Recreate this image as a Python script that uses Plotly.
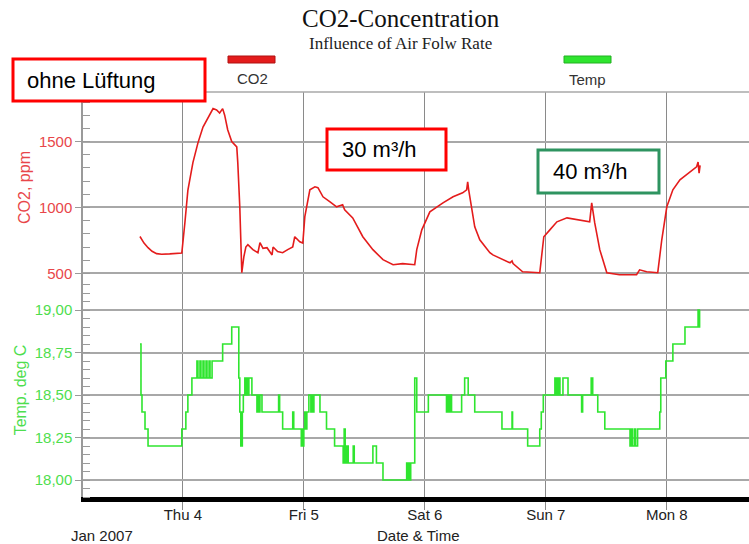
import pandas as pd
import plotly.graph_objects as go
from plotly.subplots import make_subplots

# ---------------- data ----------------
base = pd.Timestamp("2007-01-04 00:00")

# hours relative to Thu 4 Jan 2007 00:00
co2_hours = [-8.5, -7.7, -6.9, -6.1, -5.2, -4.2, -2.6, -1.0, -0.2, 0.4, 1.0, 2.0, 3.0, 4.0,
             5.4, 6.0, 6.7, 7.3, 7.9, 8.3, 8.9, 9.7, 10.7, 10.9, 11.3, 11.5, 11.7, 12.1,
             12.5, 12.9, 13.9, 14.9, 15.3, 15.9, 16.7, 17.7, 17.9, 18.8, 19.8, 20.8, 21.8,
             22.2, 23.2, 23.8, 24.2, 25.2, 26.2, 26.8, 27.8, 29.2, 30.5, 31.7, 32.1, 33.7,
             35.7, 37.7, 39.7, 41.7, 43.6, 46.0, 46.4, 47.4, 49.0, 51.6, 53.6, 55.5, 56.3,
             56.5, 56.7, 57.9, 58.9, 60.9, 61.5, 64.9, 65.3, 65.5, 67.4, 70.8, 71.6, 72.8,
             74.2, 76.2, 78.1, 80.7, 81.1, 81.7, 82.7, 84.1, 86.6, 90.0, 90.6, 92.0, 94.2,
             95.0, 96.0, 97.2, 98.6, 100.6, 101.9, 102.2, 102.4, 102.6]
co2_ppm = [780, 730, 695, 668, 650, 645, 648, 655, 655, 880, 1130, 1340, 1490, 1610,
           1713, 1750, 1740, 1717, 1750, 1700, 1590, 1500, 1460, 1340, 1005, 625, 505, 625,
           700, 717, 680, 657, 733, 690, 695, 640, 700, 665, 657, 680, 700,
           778, 740, 730, 930, 1134, 1157, 1150, 1081, 1043, 1005, 1020, 983, 921,
           778, 680, 604, 566, 574, 566, 680, 830, 967, 1035, 1081, 1111, 1134,
           1195, 1134, 853, 755, 657, 640, 580, 595, 575, 512, 505, 778, 830,
           891, 921, 906, 891, 1035, 883, 680, 505, 490, 490, 527, 512, 505,
           755, 1005, 1134, 1210, 1270, 1308, 1345, 1260, 1320]

temp_hours = [-8.5, -8.3, -8.1, -7.5, -6.9, -0.2, 0.6, 1.0, 1.8, 2.8, 3.0, 3.4, 3.6, 4.0,
              4.2, 4.6, 4.8, 5.2, 5.4, 5.8, 7.9, 9.7, 11.1, 11.3, 11.5, 11.8, 12.0, 12.3,
              12.5, 12.7, 12.9, 13.1, 13.7, 14.7, 14.9, 15.1, 15.3, 15.7, 19.0, 19.2, 19.8,
              21.8, 22.0, 23.5, 23.7, 23.9, 24.0, 24.2, 24.4, 24.6, 25.0, 25.4, 25.6, 25.8,
              26.0, 27.2, 28.5, 30.1, 31.8, 32.0, 32.2, 32.5, 32.8, 33.8, 34.0, 37.7, 38.4,
              39.7, 44.4, 44.6, 44.8, 45.0, 45.2, 46.0, 46.4, 48.7, 52.3, 52.6, 52.8, 53.0,
              53.3, 55.3, 55.9, 56.6, 57.9, 63.3, 65.3, 65.4, 68.4, 70.8, 71.1, 71.5, 73.8,
              74.0, 74.2, 74.4, 74.6, 74.8, 75.4, 76.4, 79.1, 79.3, 81.0, 81.3, 82.3, 83.7,
              88.7, 89.0, 89.2, 89.6, 89.8, 90.2, 94.6, 94.8, 95.8, 97.2, 99.6, 102.2, 102.3,
              102.5, 102.6]
temp_c = [18.8, 18.5, 18.4, 18.3, 18.2, 18.3, 18.4, 18.5, 18.6, 18.7, 18.6, 18.7, 18.6, 18.7,
          18.6, 18.7, 18.6, 18.7, 18.6, 18.7, 18.8, 18.9, 18.6, 18.4, 18.2, 18.4, 18.5, 18.6,
          18.5, 18.6, 18.5, 18.6, 18.5, 18.4, 18.5, 18.4, 18.5, 18.4, 18.5, 18.4, 18.3,
          18.4, 18.3, 18.2, 18.3, 18.2, 18.3, 18.4, 18.3, 18.4, 18.5, 18.4, 18.5, 18.4,
          18.5, 18.4, 18.3, 18.2, 18.1, 18.3, 18.1, 18.2, 18.1, 18.2, 18.1, 18.2, 18.1,
          18.0, 18.1, 18.0, 18.1, 18.0, 18.1, 18.6, 18.4, 18.5, 18.4, 18.5, 18.4, 18.5,
          18.4, 18.5, 18.6, 18.5, 18.4, 18.3, 18.4, 18.3, 18.2, 18.3, 18.4, 18.5, 18.6,
          18.5, 18.6, 18.5, 18.6, 18.5, 18.6, 18.5, 18.4, 18.5, 18.6, 18.5, 18.4, 18.3,
          18.2, 18.3, 18.2, 18.3, 18.2, 18.3, 18.4, 18.6, 18.7, 18.8, 18.9, 19.0, 18.9,
          19.0, 19.0]

x_range_hours = [-19.8, 112.3]
day_ticks = ["2007-01-04", "2007-01-05", "2007-01-06", "2007-01-07", "2007-01-08"]
day_labels = ["Thu 4", "Fri 5", "Sat 6", "Sun 7", "Mon 8"]
co2_tickvals = [500, 1000, 1500]
co2_ticktext = ["500", "1000", "1500"]
co2_range = [427, 1876]
temp_tickvals = [18.0, 18.25, 18.5, 18.75, 19.0]
temp_ticktext = ["18,00", "18,25", "18,50", "18,75", "19,00"]
temp_range = [17.90, 19.159]

# ---------------- figure ----------------
to_time = lambda hs: [base + pd.Timedelta(hours=h) for h in hs]
co2_t = to_time(co2_hours)
temp_t = to_time(temp_hours)
xr = to_time(x_range_hours)

RED = "#e41c1c"
RED_TXT = "#e8464a"
GREEN = "#2fe52f"
GREEN_TXT = "#4ede4e"
GRID = "#a8a8a8"
VGRID = "#8a8a8a"
AX = "#9a9a9a"
FONT = "Liberation Sans, Arial, sans-serif"
SERIF = "Liberation Serif, Times New Roman, serif"

fig = make_subplots(rows=2, cols=1, shared_xaxes=True, vertical_spacing=0,
                    row_heights=[191, 214])

fig.add_trace(go.Scatter(x=co2_t, y=co2_ppm, mode="lines", name="CO2",
                         line=dict(color=RED, width=1.6)), row=1, col=1)
fig.add_trace(go.Scatter(x=temp_t, y=temp_c, mode="lines", name="Temp",
                         line=dict(color=GREEN, width=1.6, shape="hv")), row=2, col=1)

W, H = 749, 544
L, R, T, B = 83, 0, 92, 47
PW, PH = W - L - R, H - T - B


def px(x):
    return (x - L) / PW


def py(y):
    return (H - B - y) / PH


split = py(283)

fig.update_layout(
    width=W, height=H,
    margin=dict(l=L, r=R, t=T, b=B),
    paper_bgcolor="white", plot_bgcolor="white",
    showlegend=False,
    font=dict(family=FONT, size=15, color="#333333"),
)

xcommon = dict(range=xr, tickmode="array", tickvals=day_ticks, ticktext=day_labels,
               showgrid=True, gridcolor=VGRID, gridwidth=1, zeroline=False)
fig.update_xaxes(**xcommon)
fig.update_layout(
    xaxis=dict(showticklabels=False, ticks="", showline=False),
    xaxis2=dict(showticklabels=True, ticks="outside", ticklen=8, tickcolor=VGRID,
                showline=True, linecolor="black", linewidth=5, ticklabelstandoff=-8,
                tickfont=dict(size=15, color="#222222")),
    yaxis=dict(domain=[split, 1], range=co2_range, tickmode="array",
               tickvals=co2_tickvals, ticktext=co2_ticktext,
               tickfont=dict(size=15, color=RED_TXT),
               showgrid=True, gridcolor=GRID, gridwidth=1.5, zeroline=False,
               showline=True, linecolor=AX, linewidth=1.5,
               ticks="outside", ticklen=6, tickcolor=AX,
               minor=dict(ticks="inside", tickmode="linear", tick0=0, dtick=100,
                          ticklen=7, tickcolor=AX, showgrid=False),
               title=dict(text="CO2, ppm", font=dict(size=16, color=RED_TXT), standoff=4)),
    yaxis2=dict(domain=[0, split], range=temp_range, tickmode="array",
                tickvals=temp_tickvals, ticktext=temp_ticktext,
                tickfont=dict(size=15, color=GREEN_TXT),
                showgrid=True, gridcolor=GRID, gridwidth=1.5, zeroline=False,
                showline=True, linecolor=AX, linewidth=1.5,
                ticks="outside", ticklen=6, tickcolor=AX,
                minor=dict(ticks="inside", tickmode="linear", tick0=18, dtick=0.05,
                           ticklen=7, tickcolor=AX, showgrid=False),
                title=dict(text="Temp. deg C", font=dict(size=16, color=GREEN_TXT), standoff=4)),
)

shapes = [
    # top border of plot area
    dict(type="line", xref="paper", yref="paper", x0=0, x1=1, y0=1, y1=1,
         line=dict(color=GRID, width=1.5)),
    # legend swatches
    dict(type="rect", xref="paper", yref="paper", x0=px(228), x1=px(275), y0=py(63), y1=py(56),
         fillcolor=RED, line=dict(color="#b01010", width=1)),
    dict(type="rect", xref="paper", yref="paper", x0=px(564), x1=px(611), y0=py(63), y1=py(56),
         fillcolor=GREEN, line=dict(color="#22b022", width=1)),
    # annotation boxes
    dict(type="rect", xref="paper", yref="paper", x0=px(13), x1=px(205), y0=py(101), y1=py(59),
         fillcolor="white", line=dict(color="#ff0000", width=3), layer="above"),
    dict(type="rect", xref="paper", yref="paper", x0=px(327), x1=px(446), y0=py(170), y1=py(129),
         fillcolor="white", line=dict(color="#ff0000", width=3), layer="above"),
    dict(type="rect", xref="paper", yref="paper", x0=px(538), x1=px(659), y0=py(193), y1=py(150),
         fillcolor="white", line=dict(color="#2e9460", width=3), layer="above"),
]
fig.update_layout(shapes=shapes)

ann = [
    dict(text="CO2-Concentration", x=px(401), y=py(18), font=dict(family=SERIF, size=25, color="#111111")),
    dict(text="Influence of Air Folw Rate", x=px(400), y=py(43), font=dict(family=SERIF, size=17, color="#222222")),
    dict(text="CO2", x=px(252), y=py(78), font=dict(size=15, color="#333333")),
    dict(text="Temp", x=px(587), y=py(79), font=dict(size=15, color="#333333")),
    dict(text="ohne Lüftung", x=px(25), y=py(81), xanchor="left", font=dict(size=22, color="black")),
    dict(text="30 m³/h", x=px(340), y=py(150), xanchor="left", font=dict(size=22, color="black")),
    dict(text="40 m³/h", x=px(551), y=py(171), xanchor="left", font=dict(size=22, color="black")),
    dict(text="Jan 2007", x=px(102), y=py(535), font=dict(size=15, color="#222222")),
    dict(text="Date & Time", x=px(419), y=py(535), font=dict(size=15, color="#222222")),
]
for a in ann:
    a.setdefault("xanchor", "center")
    a.update(xref="paper", yref="paper", yanchor="middle", showarrow=False)
fig.update_layout(annotations=ann)

fig.write_html("out.html")
